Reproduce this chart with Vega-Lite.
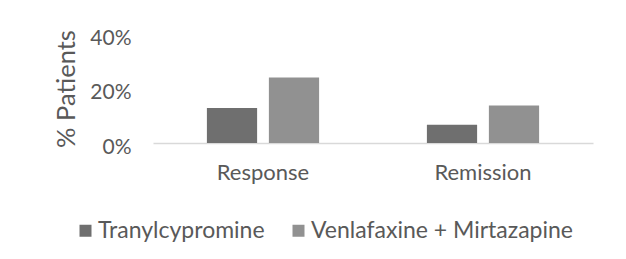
{
  "$schema": "https://vega.github.io/schema/vega-lite/v6.json",
  "autosize": {"type": "none"},
  "width": 440,
  "height": 109,
  "padding": {"left": 153, "top": 34, "right": 33, "bottom": 116},
  "background": "white",
  "config": {"view": {"stroke": null}, "font": "Lato"},
  "data": {
    "values": [
      {"outcome": "Response", "treatment": "Tranylcypromine", "pct": 0.128},
      {"outcome": "Response", "treatment": "Venlafaxine + Mirtazapine", "pct": 0.24},
      {"outcome": "Remission", "treatment": "Tranylcypromine", "pct": 0.067},
      {"outcome": "Remission", "treatment": "Venlafaxine + Mirtazapine", "pct": 0.138}
    ]
  },
  "mark": {"type": "bar"},
  "encoding": {
    "x": {
      "field": "outcome", "type": "nominal", "sort": ["Response", "Remission"],
      "scale": {"paddingInner": 0.49, "paddingOuter": 0.245},
      "axis": {"title": null, "labelAngle": 0, "ticks": false, "domainColor": "#d9d9d9", "domainWidth": 1.5, "labelColor": "#595959", "labelFontSize": 22, "labelPadding": 19, "labelFont": "Lato"}
    },
    "xOffset": {"field": "treatment", "type": "nominal", "scale": {"paddingInner": 0.19, "paddingOuter": 0}},
    "y": {
      "field": "pct", "type": "quantitative",
      "scale": {"domain": [0, 0.4], "nice": false},
      "axis": {"title": "% Patients", "format": "%", "values": [0, 0.2, 0.4], "grid": false, "domain": false, "ticks": false, "labelColor": "#595959", "labelFontSize": 21, "labelPadding": 22, "labelOffset": 4, "titleColor": "#595959", "titleFontSize": 25.5, "titleFontWeight": "normal", "titlePadding": 10, "labelFont": "Lato", "titleFont": "Lato"}
    },
    "color": {
      "field": "treatment", "type": "nominal",
      "scale": {"domain": ["Tranylcypromine", "Venlafaxine + Mirtazapine"], "range": ["#6f6f6f", "#919191"]},
      "legend": {"title": null, "orient": "none", "direction": "horizontal", "legendX": -79, "legendY": 185, "padding": 0, "symbolType": "square", "symbolSize": 144, "symbolStrokeWidth": 0, "labelFontSize": 23, "labelColor": "#595959", "labelFont": "Lato", "labelLimit": 0, "columnPadding": 22, "symbolOffset": 0, "labelOffset": 1}
    }
  }
}
